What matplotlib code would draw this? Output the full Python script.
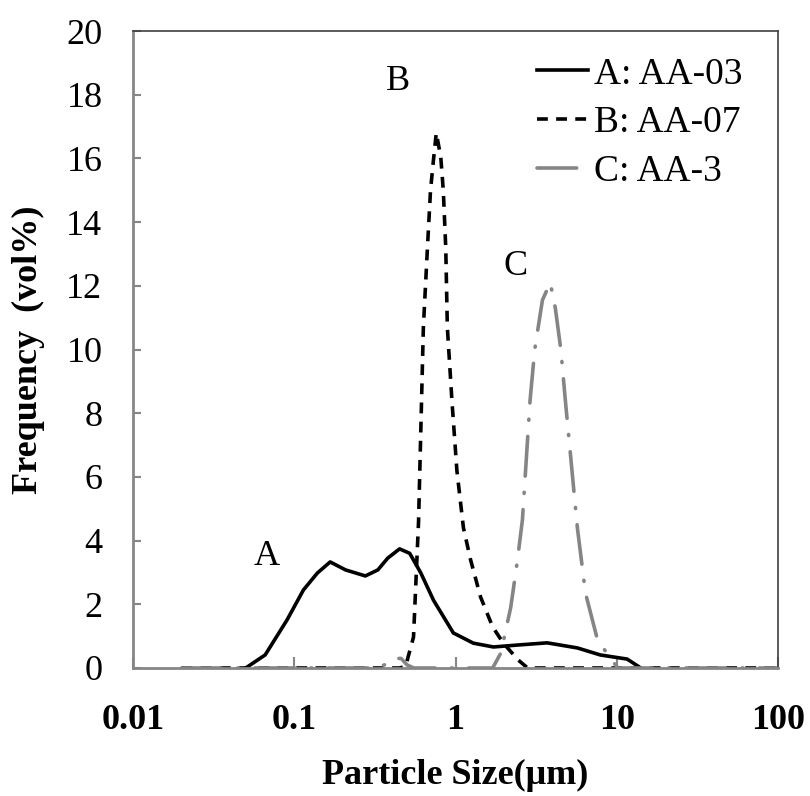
import matplotlib.pyplot as plt

# particle size distributions (size in um, frequency in vol%)
a_size = [0.05, 0.066, 0.09, 0.114, 0.139, 0.167, 0.208, 0.276, 0.33, 0.38, 0.45, 0.52,
          0.61, 0.73, 0.97, 1.29, 1.72, 2.41, 3.7, 5.7, 7.9, 11.6, 14.1]
a_freq = [0, 0.41, 1.5, 2.45, 2.98, 3.33, 3.08, 2.89, 3.08, 3.45, 3.74, 3.6,
          2.98, 2.13, 1.1, 0.78, 0.66, 0.72, 0.79, 0.63, 0.41, 0.28, 0]

b_size = [0.02, 0.45, 0.49, 0.549, 0.59, 0.632, 0.67, 0.70, 0.73, 0.76, 0.81, 0.84,
          0.87, 0.89, 0.95, 1.02, 1.12, 1.24, 1.43, 1.70, 1.98, 2.45, 2.8, 100]
b_freq = [0, 0, 0.05, 0.97, 4.6, 10.7, 13.2, 15.0, 15.95, 16.8, 16.05, 15.0,
          13.2, 10.7, 8.4, 6.2, 4.4, 3.4, 2.23, 1.29, 0.78, 0.25, 0, 0]

c_size = [0.02, 0.33, 0.38, 0.42, 0.46, 0.5, 0.55, 1.7, 1.91, 2.2, 2.41, 2.6, 2.9,
          3.1, 3.46, 3.87, 4.16, 4.5, 4.8, 5.7, 6.4, 7.6, 9.6, 10.2, 100]
c_freq = [0, 0, 0.15, 0.3, 0.3, 0.1, 0, 0, 0.47, 1.9, 3.3, 4.65, 8.4,
          10.0, 11.55, 12.1, 11.3, 10.0, 8.4, 4.4, 2.35, 0.88, 0.16, 0, 0]

labels = ["A: AA-03", "B: AA-07", "C: AA-3"]
peak_names = ["A", "B", "C"]
peak_pos = [(0.067, 3.5), (0.443, 18.4), (2.36, 12.6)]

plt.rcParams['font.family'] = 'Liberation Serif'

fig = plt.figure(figsize=(8.1, 7.96), dpi=100)
ax = fig.add_axes([133 / 810, 1 - 668 / 796, 645 / 810, 637 / 796])

ax.plot(a_size, a_freq, color='black', lw=2.6, label=labels[0])
ax.plot(b_size, b_freq, color='black', lw=2.6, linestyle=(0, (3, 2.3)), label=labels[1])
ax.plot(c_size, c_freq, color='#858585', lw=2.6, linestyle=(0, (11, 4.5, 0.3, 4.5)),
        dash_capstyle='round', label=labels[2])

for name, (px, py) in zip(peak_names, peak_pos):
    ax.text(px, py, name, fontsize=26, ha='center', va='center')

ax.set_xscale('log')
ax.set_xlim(0.01, 100)
ax.set_ylim(0, 20)
ax.set_yticks(range(0, 21, 2))
ax.set_xticks([0.01, 0.1, 1, 10, 100])
ax.set_xticklabels(["0.01", "0.1", "1", "10", "100"], fontweight='bold')
ax.minorticks_off()

ax.tick_params(axis='y', direction='in', length=6, width=1.5, color='#868686',
               labelsize=26, pad=22)
ax.tick_params(axis='x', direction='in', length=8, width=1.5, color='#868686',
               labelsize=26, pad=26)

for side in ['left', 'bottom']:
    ax.spines[side].set_color('#868686')
    ax.spines[side].set_linewidth(2)
for side in ['top', 'right']:
    ax.spines[side].set_color('#404040')
    ax.spines[side].set_linewidth(1.2)

ax.legend(loc='upper left', bbox_to_anchor=(537 / 810, 1 - 57 / 796),
          bbox_transform=fig.transFigure, frameon=False, fontsize=27,
          handlelength=1.36, handletextpad=0.16, labelspacing=0.38,
          borderaxespad=0, borderpad=0)

fig.text(28 / 810, 1 - 350 / 796, "Frequency  (vol%)", rotation=90, fontsize=26,
         fontweight='bold', ha='center', va='center')
fig.text(455 / 810, 1 - 775 / 796, "Particle Size(\u03bcm)", fontsize=26,
         fontweight='bold', ha='center', va='center')

plt.savefig("out.png", dpi=100)
